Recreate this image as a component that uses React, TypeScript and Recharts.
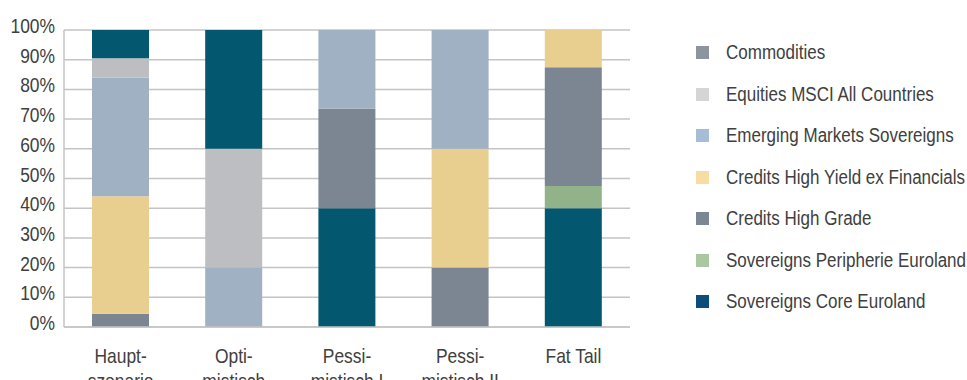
import React from "react";
import { BarChart, Bar, XAxis, YAxis, CartesianGrid, Legend } from "recharts";

const categories = ["Haupt-\nszenario", "Opti-\nmistisch", "Pessi-\nmistisch I", "Pessi-\nmistisch II", "Fat Tail"];

// stacked from bottom to top
const coreBottom = [0, 0, 40, 0, 40];
const peripherie = [0, 0, 0, 0, 7.5];
const highGrade = [4.5, 0, 33.5, 20, 40];
const highYield = [39.5, 0, 0, 40, 12.5];
const emerging = [40, 20, 26.5, 40, 0];
const equities = [6.5, 40, 0, 0, 0];
const coreTop = [9.5, 40, 0, 0, 0];

const yTicks = [0, 10, 20, 30, 40, 50, 60, 70, 80, 90, 100];

const legendLabels = [
  "Commodities",
  "Equities MSCI All Countries",
  "Emerging Markets Sovereigns",
  "Credits High Yield ex Financials",
  "Credits High Grade",
  "Sovereigns Peripherie Euroland",
  "Sovereigns Core Euroland",
];
const legendColors = ["#8b949f", "#d4d5d7", "#a7bcd7", "#f7dda3", "#7c8794", "#a9c7a1", "#0d4d7b"];

const seriesKeys = ["coreBottom", "peripherie", "highGrade", "highYield", "emerging", "equities", "coreTop"];
const seriesValues = [coreBottom, peripherie, highGrade, highYield, emerging, equities, coreTop];
const seriesColors = ["#03576e", "#92b28a", "#7b8692", "#e9cf8f", "#9fb1c2", "#bcbec2", "#03576e"];

const data = categories.map((c, i) => {
  const row: Record<string, any> = { name: c };
  seriesKeys.forEach((k, j) => {
    row[k] = seriesValues[j][i];
  });
  return row;
});

const FONT = "'Liberation Sans', Arial, sans-serif";
const TEXT = "#404040";
const SX = 0.85;

const XTick = (props: any) => {
  const { x, y, payload } = props;
  const lines = String(payload.value).split("\n");
  return (
    <g transform={`translate(${x},${y}) scale(${SX},1)`}>
      <text x={0} y={0} textAnchor="middle" fill={TEXT} fontSize={20.5} fontFamily={FONT}>
        {lines.map((l, i) => (
          <tspan key={i} x={0} dy={i === 0 ? 28 : 25}>
            {l}
          </tspan>
        ))}
      </text>
    </g>
  );
};

const YTick = (props: any) => {
  const { x, y, payload } = props;
  return (
    <g transform={`translate(${x},${y}) scale(${SX},1)`}>
      <text x={0} y={0} dy={3} textAnchor="end" fill={TEXT} fontSize={20.5} fontFamily={FONT}>
        {`${payload.value}%`}
      </text>
    </g>
  );
};

const LegendContent = () => (
  <div style={{ fontFamily: FONT, fontSize: 20, color: TEXT }}>
    {legendLabels.map((l, i) => (
      <div key={l} style={{ height: 41.5, display: "flex", alignItems: "center" }}>
        <div style={{ width: 13, height: 13, flexShrink: 0, background: legendColors[i], marginRight: 17 }} />
        <span
          style={{
            whiteSpace: "nowrap",
            display: "inline-block",
            transform: `scaleX(${SX})`,
            transformOrigin: "left center",
          }}
        >
          {l}
        </span>
      </div>
    ))}
  </div>
);

export default function App() {
  return (
    <div style={{ position: "absolute", left: 0, top: 0, width: 967, height: 380, background: "#fff" }}>
      <BarChart
        width={967}
        height={380}
        data={data}
        margin={{ top: 30, right: 337, bottom: 0, left: 0 }}
      >
        <CartesianGrid vertical={false} stroke="#c4c4c4" strokeWidth={1.5} />
        <XAxis
          dataKey="name"
          height={53}
          tick={<XTick />}
          tickLine={false}
          axisLine={{ stroke: "#c4c4c4", strokeWidth: 1.5 }}
          interval={0}
        />
        <YAxis
          width={64}
          domain={[0, 100]}
          ticks={yTicks}
          tickLine={false}
          tickSize={6}
          tickMargin={3}
          axisLine={{ stroke: "#c4c4c4", strokeWidth: 1.5 }}
          tick={<YTick />}
          interval={0}
        />
        {seriesKeys.map((k, j) => (
          <Bar key={k} dataKey={k} stackId="a" fill={seriesColors[j]} barSize={57} isAnimationActive={false} />
        ))}
        <Legend
          layout="vertical"
          align="center"
          verticalAlign="middle"
          content={<LegendContent />}
          wrapperStyle={{ left: 696, top: 32, width: 271 }}
        />
      </BarChart>
    </div>
  );
}
